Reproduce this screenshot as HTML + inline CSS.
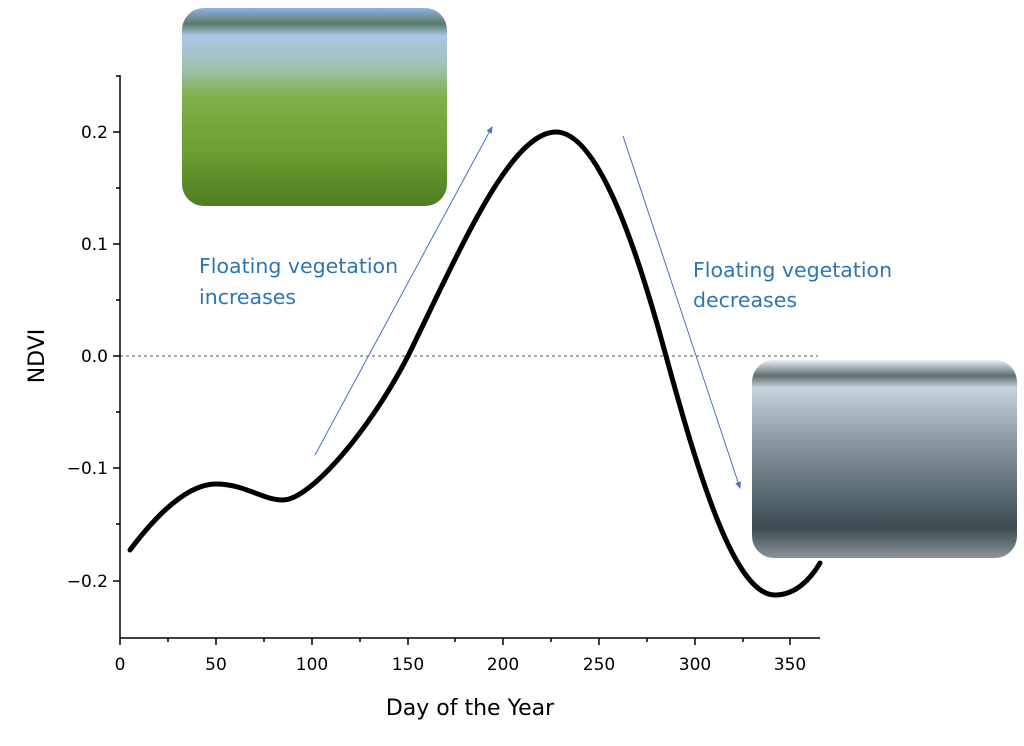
<!DOCTYPE html>
<html><head><style>
body{margin:0;background:#fff;width:1024px;height:741px;overflow:hidden}
</style></head><body>
<svg width="1024" height="741" viewBox="0 0 1024 741" xmlns="http://www.w3.org/2000/svg" font-family="DejaVu Sans, sans-serif">
<defs>
<linearGradient id="g1" x1="0" y1="0" x2="0" y2="1">
<stop offset="0" stop-color="#8fb3e0"/><stop offset="0.08" stop-color="#5a7a6a"/><stop offset="0.14" stop-color="#a9c6e8"/><stop offset="0.3" stop-color="#9fc2b0"/><stop offset="0.45" stop-color="#7fb04a"/><stop offset="0.75" stop-color="#6a9c30"/><stop offset="1" stop-color="#4f7d22"/>
</linearGradient>
<linearGradient id="g2" x1="0" y1="0" x2="0" y2="1">
<stop offset="0" stop-color="#e8eef4"/><stop offset="0.08" stop-color="#5f6f70"/><stop offset="0.14" stop-color="#c7d2dc"/><stop offset="0.4" stop-color="#8d9aa6"/><stop offset="0.7" stop-color="#55666f"/><stop offset="0.85" stop-color="#3d4a50"/><stop offset="1" stop-color="#8a959c"/>
</linearGradient>
<marker id="ah" markerWidth="8" markerHeight="8" refX="6" refY="3" orient="auto"><path d="M0,0 L7,3 L0,6 z" fill="#4472c4"/></marker>
</defs>
<rect x="182" y="8" width="265" height="198" rx="22" fill="url(#g1)"/>
<rect x="752" y="360" width="265" height="198" rx="22" fill="url(#g2)"/>
<line x1="120" y1="356" x2="818" y2="356" stroke="#555" stroke-width="1" stroke-dasharray="3,3"/>
<g stroke="#000" stroke-width="1.5" fill="none">
<line x1="120" y1="75" x2="120" y2="638"/>
<line x1="120" y1="638" x2="820" y2="638"/>
<line x1="113" y1="132" x2="120" y2="132"/><line x1="113" y1="244" x2="120" y2="244"/><line x1="113" y1="356" x2="120" y2="356"/><line x1="113" y1="468" x2="120" y2="468"/><line x1="113" y1="581" x2="120" y2="581"/>
<line x1="116" y1="76" x2="120" y2="76"/><line x1="116" y1="188" x2="120" y2="188"/><line x1="116" y1="300" x2="120" y2="300"/><line x1="116" y1="412" x2="120" y2="412"/><line x1="116" y1="524" x2="120" y2="524"/>
<line x1="120" y1="638" x2="120" y2="645"/><line x1="216" y1="638" x2="216" y2="645"/><line x1="312" y1="638" x2="312" y2="645"/><line x1="408" y1="638" x2="408" y2="645"/><line x1="503" y1="638" x2="503" y2="645"/><line x1="599" y1="638" x2="599" y2="645"/><line x1="695" y1="638" x2="695" y2="645"/><line x1="790" y1="638" x2="790" y2="645"/>
<line x1="168" y1="638" x2="168" y2="642"/><line x1="264" y1="638" x2="264" y2="642"/><line x1="360" y1="638" x2="360" y2="642"/><line x1="455" y1="638" x2="455" y2="642"/><line x1="551" y1="638" x2="551" y2="642"/><line x1="647" y1="638" x2="647" y2="642"/><line x1="743" y1="638" x2="743" y2="642"/>
</g>
<g font-size="17" fill="#000" text-anchor="end">
<text x="108" y="138">0.2</text><text x="108" y="250">0.1</text><text x="108" y="362">0.0</text><text x="108" y="474">−0.1</text><text x="108" y="587">−0.2</text>
</g>
<g font-size="17" fill="#000" text-anchor="middle">
<text x="120" y="670">0</text><text x="216" y="670">50</text><text x="312" y="670">100</text><text x="408" y="670">150</text><text x="503" y="670">200</text><text x="599" y="670">250</text><text x="695" y="670">300</text><text x="790" y="670">350</text>
</g>
<text x="470" y="715" font-size="22" text-anchor="middle">Day of the Year</text>
<text transform="translate(44,356) rotate(-90)" font-size="22" text-anchor="middle">NDVI</text>
<path d="M130,550 C160,510 190,484 216,484 C245,484 262,500 283,500 C310,500 370,430 408,356 C460,250 510,132 556,132 C600,132 640,260 666,356 C700,480 735,595 775,595 C795,595 810,580 820,563" stroke="#000" stroke-width="5" fill="none" stroke-linecap="round"/>
<line x1="315" y1="455" x2="492" y2="127" stroke="#4472c4" stroke-width="1" marker-end="url(#ah)"/>
<line x1="623" y1="136" x2="740" y2="488" stroke="#4472c4" stroke-width="1" marker-end="url(#ah)"/>
<g font-size="20.5" fill="#2e75b6">
<text x="199" y="273">Floating vegetation</text><text x="199" y="304">increases</text>
<text x="693" y="277">Floating vegetation</text><text x="693" y="307">decreases</text>
</g>
</svg>
</body></html>
